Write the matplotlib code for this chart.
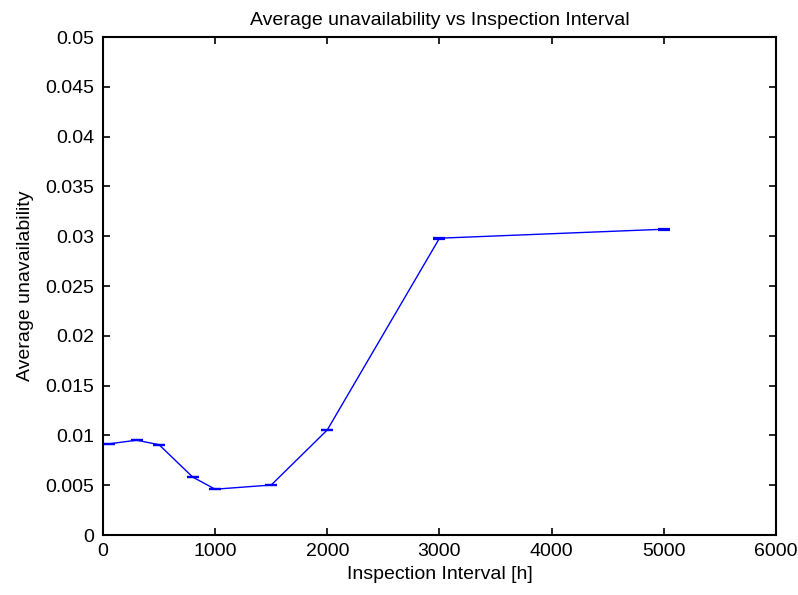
import matplotlib
matplotlib.use("Agg")
import matplotlib.pyplot as plt

# Inspection interval [h] and resulting average unavailability
interval_h = [50, 300, 500, 800, 1000, 1500, 2000, 3000, 5000]
unavailability = [0.00915, 0.00952, 0.00907, 0.00582, 0.00460, 0.00502, 0.01055, 0.02980, 0.03070]
unavail_err = [0.00001, 0.00001, 0.00001, 0.00003, 0.00001, 0.00001, 0.00003, 0.00003, 0.00003]

x_ticks = [0, 1000, 2000, 3000, 4000, 5000, 6000]
y_ticks = [0, 0.005, 0.01, 0.015, 0.02, 0.025, 0.03, 0.035, 0.04, 0.045, 0.05]
y_tick_labels = ["0", "0.005", "0.01", "0.015", "0.02", "0.025", "0.03",
                 "0.035", "0.04", "0.045", "0.05"]

plt.rcParams["font.family"] = ["Liberation Sans", "DejaVu Sans"]

fig = plt.figure(figsize=(7.98, 5.95), dpi=100, facecolor="white")
ax = fig.add_axes([0.129, 0.1008, 0.8434, 0.837])

ax.errorbar(interval_h, unavailability, yerr=unavail_err, color="#0000ff",
            linewidth=1.0, elinewidth=1.0, capsize=4, capthick=1.6)

ax.set_xlim(0, 6000)
ax.set_ylim(0, 0.05)
ax.set_xticks(x_ticks)
ax.set_xticklabels([str(t) for t in x_ticks])
ax.set_yticks(y_ticks)
ax.set_yticklabels(y_tick_labels)

ax.tick_params(direction="in", length=5, width=1.2, top=True, right=True,
               labelsize=14, colors="black", pad=6)
for s in ax.spines.values():
    s.set_linewidth(1.5)
    s.set_color("black")

ax.set_title("Average unavailability vs Inspection Interval", fontsize=14, pad=9)
ax.set_xlabel("Inspection Interval [h]", fontsize=14, labelpad=4)
ax.set_ylabel("Average unavailability", fontsize=14, labelpad=8)

fig.savefig("out.png", dpi=100, facecolor="white")
